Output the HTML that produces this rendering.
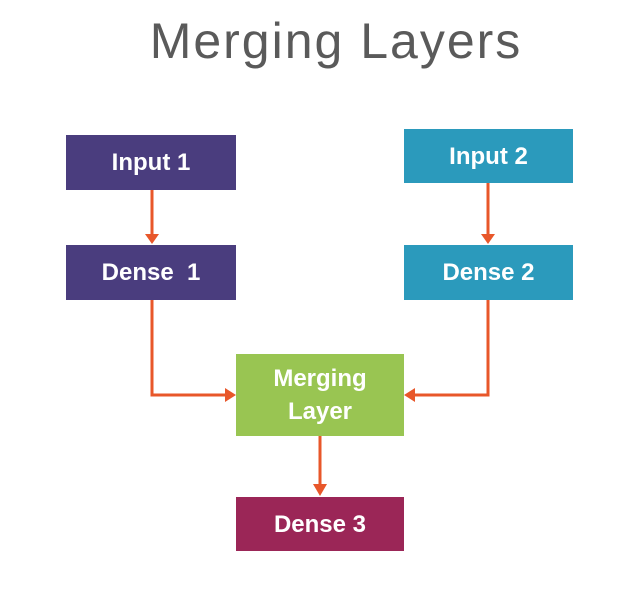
<!DOCTYPE html>
<html><head><style>
body{margin:0;width:635px;height:612px;background:#fff;position:relative;overflow:hidden;font-family:"Liberation Sans",sans-serif}
.t{position:absolute;left:0;width:672px;text-align:center;top:12px;font-size:50px;color:#5a5a5a;font-weight:300;letter-spacing:2px}
.b{position:absolute;color:#fff;font-weight:bold;font-size:24px;display:flex;align-items:center;justify-content:center;text-align:center;line-height:33px}
.p{background:#4a3d7e}.c{background:#2b9abc}.g{background:#99c552}.m{background:#9b2657}
</style></head><body>
<div class="t">Merging Layers</div>
<svg width="635" height="612" style="position:absolute;left:0;top:0">
<g stroke="#e8572a" stroke-width="3" fill="none">
<path d="M152 190V236"/><path d="M488 183V236"/>
<path d="M152 300V395H226"/><path d="M488 300V395H414"/>
<path d="M320 436V486"/>
</g>
<g fill="#e8572a">
<path d="M145 234H159L152 244Z"/><path d="M481 234H495L488 244Z"/>
<path d="M225 388V402L236 395Z"/><path d="M415 388V402L404 395Z"/>
<path d="M313 484H327L320 496Z"/>
</g>
</svg>
<div class="b p" style="left:66px;top:135px;width:170px;height:55px">Input 1</div>
<div class="b p" style="left:66px;top:245px;width:170px;height:55px">Dense&nbsp; 1</div>
<div class="b c" style="left:404px;top:129px;width:169px;height:54px">Input 2</div>
<div class="b c" style="left:404px;top:245px;width:169px;height:55px">Dense 2</div>
<div class="b g" style="left:236px;top:354px;width:168px;height:82px">Merging<br>Layer</div>
<div class="b m" style="left:236px;top:497px;width:168px;height:54px">Dense 3</div>
</body></html>
